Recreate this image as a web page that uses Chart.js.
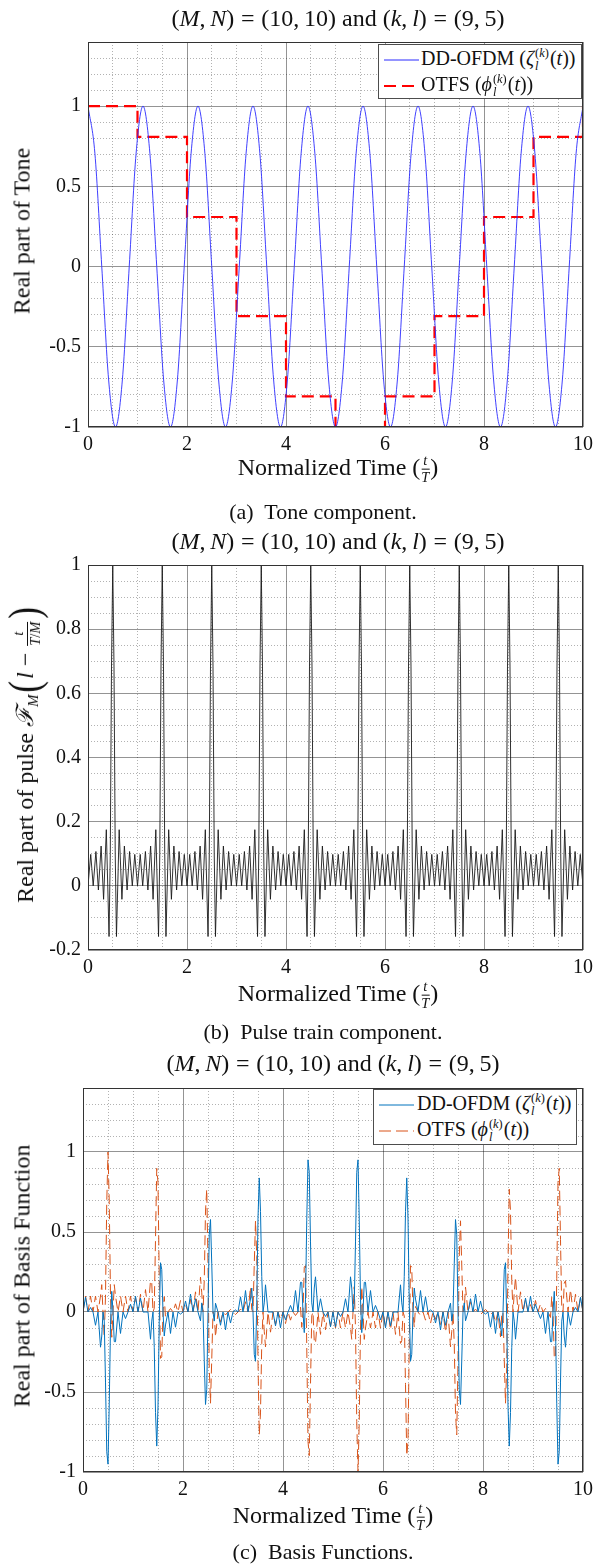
<!DOCTYPE html>
<html>
<head>
<meta charset="utf-8">
<script src="https://cdn.jsdelivr.net/npm/chart.js@4.4.1/dist/chart.umd.min.js"></script>
<style>
body { margin: 0; background: #fff; }
#page { position: relative; width: 599px; height: 1566px; overflow: hidden; font-family: 'Liberation Serif', 'DejaVu Serif', serif; color: #111; }
canvas { position: absolute; left: 0; }
.txt { position: absolute; white-space: nowrap; transform: translate(-50%, -50%); }
.ylab { transform: translate(-50%, -50%) rotate(-90deg); }
.title { font-size: 24px; }
.axlab { font-size: 24px; }
.caption { font-size: 22px; }
.eq { margin: 0 0.28em; }
.frac { display: inline-flex; flex-direction: column; vertical-align: middle; font-size: 0.6em; line-height: 1.1; text-align: center; margin: 0 1px; }
.frac > span + span { border-top: 1px solid #111; }
.ss { display: inline-flex; flex-direction: column; vertical-align: 0.62em; font-size: 0.62em; line-height: 1.0; margin: 0 1px 0 1px; }
.big { display: inline-block; font-size: 1.45em; transform: scaleY(1.3); vertical-align: -0.1em; margin: 0 2px; }
.legend { position: absolute; background: #fff; border: 1px solid #4d4d4d; font-size: 20px; }
.legend .row { position: absolute; left: 0; white-space: nowrap; transform: translateY(-50%); }
.legend svg { position: absolute; top: 50%; transform: translateY(-50%); }
.legend .lbl { position: absolute; white-space: nowrap; top: 50%; transform: translateY(-50%); }
</style>
</head>
<body>
<div id="page">
  <canvas id="tone-chart" width="599" height="434" style="top:23px"></canvas>
  <canvas id="pulse-chart" width="599" height="434" style="top:546px"></canvas>
  <canvas id="basis-chart" width="599" height="433" style="top:1069px"></canvas>

  <!-- (a) tone -->
  <div class="txt title" style="left:338px; top:18px">(<i>M</i>,&thinsp;<i>N</i>)<span class="eq">=</span>(10,&thinsp;10) and (<i>k</i>,&thinsp;<i>l</i>)<span class="eq">=</span>(9,&thinsp;5)</div>
  <div class="txt ylab axlab" style="left:22px; top:231px">Real part of Tone</div>
  <div class="txt axlab" style="left:338px; top:469px">Normalized Time (<span class="frac"><span><i>t</i></span><span><i>T</i></span></span>)</div>
  <div class="txt caption" style="left:323px; top:512px">(a)&nbsp; Tone component.</div>
  <div class="legend" style="left:378px; top:44px; width:202px; height:53px;">
    <div class="row" style="top:15px; width:202px; height:26px;">
      <svg width="35" height="4" style="left:5px"><line x1="0" y1="2" x2="35" y2="2" stroke="#2a2aff" stroke-width="1"/></svg>
      <span class="lbl" style="left:42px">DD-OFDM (<i>ζ</i><span class="ss"><span>(<i>k</i>)</span><span><i>l</i></span></span>(<i>t</i>))</span>
    </div>
    <div class="row" style="top:41px; width:202px; height:26px;">
      <svg width="35" height="4" style="left:5px"><line x1="0" y1="2" x2="35" y2="2" stroke="#ff0000" stroke-width="2.2" stroke-dasharray="12 6"/></svg>
      <span class="lbl" style="left:42px">OTFS (<i>ϕ</i><span class="ss"><span>(<i>k</i>)</span><span><i>l</i></span></span>(<i>t</i>))</span>
    </div>
  </div>

  <!-- (b) pulse train -->
  <div class="txt title" style="left:338px; top:541px">(<i>M</i>,&thinsp;<i>N</i>)<span class="eq">=</span>(10,&thinsp;10) and (<i>k</i>,&thinsp;<i>l</i>)<span class="eq">=</span>(9,&thinsp;5)</div>
  <div class="txt ylab axlab" style="left:25px; top:754px">Real part of pulse <i>ℱ</i><sub style="font-size:0.62em"><i>M</i></sub><span class="big">(</span><i>l</i> − <span class="frac"><span><i>t</i></span><span><i>T</i>/<i>M</i></span></span><span class="big">)</span></div>
  <div class="txt axlab" style="left:338px; top:995px">Normalized Time (<span class="frac"><span><i>t</i></span><span><i>T</i></span></span>)</div>
  <div class="txt caption" style="left:323px; top:1032px">(b)&nbsp; Pulse train component.</div>

  <!-- (c) basis functions -->
  <div class="txt title" style="left:333px; top:1063px">(<i>M</i>,&thinsp;<i>N</i>)<span class="eq">=</span>(10,&thinsp;10) and (<i>k</i>,&thinsp;<i>l</i>)<span class="eq">=</span>(9,&thinsp;5)</div>
  <div class="txt ylab axlab" style="left:22px; top:1276px">Real part of Basis Function</div>
  <div class="txt axlab" style="left:333px; top:1517px">Normalized Time (<span class="frac"><span><i>t</i></span><span><i>T</i></span></span>)</div>
  <div class="txt caption" style="left:323px; top:1552px">(c)&nbsp; Basis Functions.</div>
  <div class="legend" style="left:373px; top:1089px; width:202px; height:54px;">
    <div class="row" style="top:15px; width:202px; height:26px;">
      <svg width="35" height="4" style="left:5px"><line x1="0" y1="2" x2="35" y2="2" stroke="#0072BD" stroke-width="1"/></svg>
      <span class="lbl" style="left:43px">DD-OFDM (<i>ζ</i><span class="ss"><span>(<i>k</i>)</span><span><i>l</i></span></span>(<i>t</i>))</span>
    </div>
    <div class="row" style="top:41px; width:202px; height:26px;">
      <svg width="35" height="4" style="left:5px"><line x1="0" y1="2" x2="35" y2="2" stroke="#D95319" stroke-width="1" stroke-dasharray="12 5"/></svg>
      <span class="lbl" style="left:43px">OTFS (<i>ϕ</i><span class="ss"><span>(<i>k</i>)</span><span><i>l</i></span></span>(<i>t</i>))</span>
    </div>
  </div>
</div>

<script>
// ---- (a) tone component ----
// DD-OFDM tone, sampled every eighth of a cycle (9 cycles over 10 T)
const tone_t = [
    0, 0.139, 0.278, 0.417, 0.556, 0.694, 0.833, 0.972,
    1.111, 1.25, 1.389, 1.528, 1.667, 1.806, 1.944, 2.083,
    2.222, 2.361, 2.5, 2.639, 2.778, 2.917, 3.056, 3.194,
    3.333, 3.472, 3.611, 3.75, 3.889, 4.028, 4.167, 4.306,
    4.444, 4.583, 4.722, 4.861, 5, 5.139, 5.278, 5.417,
    5.556, 5.694, 5.833, 5.972, 6.111, 6.25, 6.389, 6.528,
    6.667, 6.806, 6.944, 7.083, 7.222, 7.361, 7.5, 7.639,
    7.778, 7.917, 8.056, 8.194, 8.333, 8.472, 8.611, 8.75,
    8.889, 9.028, 9.167, 9.306, 9.444, 9.583, 9.722, 9.861, 10
]
const tone_re = [
    1, 0.707, 0, -0.707, -1, -0.707, 0, 0.707,
    1, 0.707, 0, -0.707, -1, -0.707, 0, 0.707,
    1, 0.707, 0, -0.707, -1, -0.707, 0, 0.707,
    1, 0.707, 0, -0.707, -1, -0.707, 0, 0.707,
    1, 0.707, 0, -0.707, -1, -0.707, 0, 0.707,
    1, 0.707, 0, -0.707, -1, -0.707, 0, 0.707,
    1, 0.707, 0, -0.707, -1, -0.707, 0, 0.707,
    1, 0.707, 0, -0.707, -1, -0.707, 0, 0.707,
    1, 0.707, 0, -0.707, -1, -0.707, 0, 0.707, 1
]
// OTFS tone, one level per symbol interval
const step_t = [0, 1, 2, 3, 4, 5, 6, 7, 8, 9, 10]
const step_re = [1, 0.809, 0.309, -0.309, -0.809, -1, -0.809, -0.309, 0.309, 0.809, 1]

// ---- (b) pulse train component ----
// sample times inside each unit interval
const pulse_offsets = [0, 0.055, 0.105, 0.16, 0.21, 0.265, 0.315, 0.37, 0.425, 0.45, 0.475,
    0.5, 0.525, 0.55, 0.575, 0.63, 0.685, 0.735, 0.79, 0.84, 0.895, 0.945]
const pulse_rows = [
    [0, 0.098, 0, 0.107, -0.013, 0.124, -0.042, 0.175, -0.158, 0.1, 0.685, 1, 0.685, 0.1, -0.158, 0.175, -0.042, 0.124, -0.013, 0.107, 0, 0.098],
    [0, 0.098, 0, 0.107, -0.013, 0.124, -0.042, 0.175, -0.158, 0.1, 0.685, 1, 0.685, 0.1, -0.158, 0.175, -0.042, 0.124, -0.013, 0.107, 0, 0.098],
    [0, 0.098, 0, 0.107, -0.013, 0.124, -0.042, 0.175, -0.158, 0.1, 0.685, 1, 0.685, 0.1, -0.158, 0.175, -0.042, 0.124, -0.013, 0.107, 0, 0.098],
    [0, 0.098, 0, 0.107, -0.013, 0.124, -0.042, 0.175, -0.158, 0.1, 0.685, 1, 0.685, 0.1, -0.158, 0.175, -0.042, 0.124, -0.013, 0.107, 0, 0.098],
    [0, 0.098, 0, 0.107, -0.013, 0.124, -0.042, 0.175, -0.158, 0.1, 0.685, 1, 0.685, 0.1, -0.158, 0.175, -0.042, 0.124, -0.013, 0.107, 0, 0.098],
    [0, 0.098, 0, 0.107, -0.013, 0.124, -0.042, 0.175, -0.158, 0.1, 0.685, 1, 0.685, 0.1, -0.158, 0.175, -0.042, 0.124, -0.013, 0.107, 0, 0.098],
    [0, 0.098, 0, 0.107, -0.013, 0.124, -0.042, 0.175, -0.158, 0.1, 0.685, 1, 0.685, 0.1, -0.158, 0.175, -0.042, 0.124, -0.013, 0.107, 0, 0.098],
    [0, 0.098, 0, 0.107, -0.013, 0.124, -0.042, 0.175, -0.158, 0.1, 0.685, 1, 0.685, 0.1, -0.158, 0.175, -0.042, 0.124, -0.013, 0.107, 0, 0.098],
    [0, 0.098, 0, 0.107, -0.013, 0.124, -0.042, 0.175, -0.158, 0.1, 0.685, 1, 0.685, 0.1, -0.158, 0.175, -0.042, 0.124, -0.013, 0.107, 0, 0.098],
    [0, 0.098, 0, 0.107, -0.013, 0.124, -0.042, 0.175, -0.158, 0.1, 0.685, 1, 0.685, 0.1, -0.158, 0.175, -0.042, 0.124, -0.013, 0.107, 0, 0.098]
]

// ---- (c) basis functions ----
const basis_offsets = [0, 0.05, 0.1, 0.15, 0.2, 0.25, 0.3, 0.35, 0.375, 0.4, 0.425, 0.45, 0.475,
    0.5, 0.525, 0.55, 0.575, 0.6, 0.625, 0.65, 0.7, 0.75, 0.8, 0.85, 0.9, 0.95]
const ddofdm_rows = [
    [0, 0.092, 0, 0.028, 0, -0.083, 0, -0.220, -0.150, 0, -0.057, -0.438, -0.873, -0.951, -0.574, -0.080, 0.129, 0, -0.185, -0.186, 0, -0.134, 0, -0.041, 0, 0.049],
    [0, 0.099, 0, 0.087, 0, 0, 0, -0.170, -0.057, 0, -0.221, -0.628, -0.838, -0.588, -0.057, 0.308, 0.265, 0, -0.150, -0.081, 0, -0.134, 0, -0.095, 0, -0.013],
    [0, 0.069, 0, 0.112, 0, 0.083, 0, -0.055, 0.057, 0, -0.301, -0.578, -0.483, 0, 0.483, 0.578, 0.301, 0, -0.057, 0.055, 0, -0.083, 0, -0.112, 0, -0.069],
    [0, 0.013, 0, 0.095, 0, 0.134, 0, 0.081, 0.150, 0, -0.265, -0.308, 0.057, 0.588, 0.838, 0.628, 0.221, 0, 0.057, 0.170, 0, 0, 0, -0.087, 0, -0.099],
    [0, -0.049, 0, 0.041, 0, 0.134, 0, 0.186, 0.185, 0, -0.129, 0.080, 0.574, 0.951, 0.873, 0.438, 0.057, 0, 0.150, 0.220, 0, 0.083, 0, -0.028, 0, -0.092],
    [0, -0.092, 0, -0.028, 0, 0.083, 0, 0.220, 0.150, 0, 0.057, 0.438, 0.873, 0.951, 0.574, 0.080, -0.129, 0, 0.185, 0.186, 0, 0.134, 0, 0.041, 0, -0.049],
    [0, -0.099, 0, -0.087, 0, 0, 0, 0.170, 0.057, 0, 0.221, 0.628, 0.838, 0.588, 0.057, -0.308, -0.265, 0, 0.150, 0.081, 0, 0.134, 0, 0.095, 0, 0.013],
    [0, -0.069, 0, -0.112, 0, -0.083, 0, 0.055, -0.057, 0, 0.301, 0.578, 0.483, 0, -0.483, -0.578, -0.301, 0, 0.057, -0.055, 0, 0.083, 0, 0.112, 0, 0.069],
    [0, -0.013, 0, -0.095, 0, -0.134, 0, -0.081, -0.150, 0, 0.265, 0.308, -0.057, -0.588, -0.838, -0.628, -0.221, 0, -0.057, -0.170, 0, 0, 0, 0.087, 0, 0.099],
    [0, 0.049, 0, -0.041, 0, -0.134, 0, -0.186, -0.185, 0, 0.129, -0.080, -0.574, -0.951, -0.873, -0.438, -0.057, 0, -0.150, -0.220, 0, -0.083, 0, 0.028, 0, 0.092]
]
const otfs_rows = [
    [0, 0.1, 0, 0.1, 0, 0.1, 0, 0.1, 0.171, 0, -0.158, 0.1, 0.685, 1, 0.685, 0.1, -0.158, 0, 0.171, 0.1, 0, 0.1, 0, 0.1, 0, 0.1],
    [0, 0.090, 0, 0.111, 0, 0.140, 0, 0.196, 0.180, 0, 0.024, 0.452, 0.898, 0.809, 0.210, -0.290, -0.280, 0, 0.096, -0.034, 0, 0.022, 0, 0.051, 0, 0.072],
    [0, 0.046, 0, 0.079, 0, 0.126, 0, 0.218, 0.120, 0, 0.197, 0.631, 0.768, 0.309, -0.345, -0.570, -0.295, 0, -0.015, -0.156, 0, -0.064, 0, -0.018, 0, 0.016],
    [0, -0.016, 0, 0.018, 0, 0.064, 0, 0.156, 0.015, 0, 0.295, 0.570, 0.345, -0.309, -0.768, -0.631, -0.197, 0, -0.120, -0.218, 0, -0.126, 0, -0.079, 0, -0.046],
    [0, -0.072, 0, -0.051, 0, -0.022, 0, 0.034, -0.096, 0, 0.280, 0.290, -0.210, -0.809, -0.898, -0.452, -0.024, 0, -0.180, -0.196, 0, -0.140, 0, -0.111, 0, -0.090],
    [0, -0.1, 0, -0.1, 0, -0.1, 0, -0.1, -0.171, 0, 0.158, -0.1, -0.685, -1, -0.685, -0.1, 0.158, 0, -0.171, -0.1, 0, -0.1, 0, -0.1, 0, -0.1],
    [0, -0.090, 0, -0.111, 0, -0.140, 0, -0.196, -0.180, 0, -0.024, -0.452, -0.898, -0.809, -0.210, 0.290, 0.280, 0, -0.096, 0.034, 0, -0.022, 0, -0.051, 0, -0.072],
    [0, -0.046, 0, -0.079, 0, -0.126, 0, -0.218, -0.120, 0, -0.197, -0.631, -0.768, -0.309, 0.345, 0.570, 0.295, 0, 0.015, 0.156, 0, 0.064, 0, 0.018, 0, -0.016],
    [0, 0.016, 0, -0.018, 0, -0.064, 0, -0.156, -0.015, 0, -0.295, -0.570, -0.345, 0.309, 0.768, 0.631, 0.197, 0, 0.120, 0.218, 0, 0.126, 0, 0.079, 0, 0.046],
    [0, 0.072, 0, 0.051, 0, 0.022, 0, -0.034, 0.096, 0, -0.280, -0.290, 0.210, 0.809, 0.898, 0.452, 0.024, 0, 0.180, 0.196, 0, 0.140, 0, 0.111, 0, 0.090]
]

// ---- axes ----
const time_ticks = [0, 2, 4, 6, 8, 10]
const tone_y_ticks = [-1, -0.5, 0, 0.5, 1]
const pulse_y_ticks = [-0.2, 0, 0.2, 0.4, 0.6, 0.8, 1]
const basis_y_ticks = [-1, -0.5, 0, 0.5, 1]

const major_grid = 'rgba(0, 0, 0, 0.42)'
const minor_grid = 'rgba(0, 0, 0, 0.3)'
const tick_font = { family: '"Liberation Serif", serif', size: 20 }

function zip_points(xs, ys) {
    let pts = []
    for (let i = 0; i < xs.length; i ++) {
        pts.push({ x: xs[i], y: ys[i] })
    }
    return pts
}

function rows_to_points(offsets, rows) {
    let pts = []
    for (let n = 0; n < rows.length; n ++) {
        for (let j = 0; j < offsets.length; j ++) {
            pts.push({ x: n + offsets[j], y: rows[n][j] })
        }
    }
    pts.push({ x: rows.length, y: 0 })
    return pts
}

function on_major(v, major) {
    for (let i = 0; i < major.length; i ++) {
        if (Math.abs(v - major[i]) < 1e-6) return true
    }
    return false
}

function fmt_tick(v) {
    return String(Math.round(v * 100) / 100)
}

const frame_plugin = {
    id: 'frame',
    afterDraw(chart) {
        const a = chart.chartArea
        const ctx = chart.ctx
        ctx.save()
        ctx.strokeStyle = '#333'
        ctx.lineWidth = 1
        ctx.strokeRect(Math.round(a.left) + 0.5, Math.round(a.top) + 0.5,
            Math.round(a.right - a.left) - 1, Math.round(a.bottom - a.top) - 1)
        ctx.restore()
    }
}

function make_chart(canvas_id, datasets, y_min, y_max, y_ticks, y_minor_step, left_w, right_pad) {
    return new Chart(document.getElementById(canvas_id), {
        type: 'line',
        data: { datasets: datasets },
        plugins: [frame_plugin],
        options: {
            responsive: false,
            animation: false,
            events: [],
            layout: { padding: { top: 12, right: right_pad, left: 0, bottom: 0 } },
            plugins: { legend: { display: false }, tooltip: { enabled: false } },
            elements: { point: { radius: 0 }, line: { tension: 0 } },
            scales: {
                x: {
                    type: 'linear', min: 0, max: 10, position: 'bottom',
                    afterBuildTicks: s => { s.ticks = time_ticks.map(v => ({ value: v })) },
                    ticks: { font: tick_font, color: '#111', padding: 6, maxRotation: 0, callback: fmt_tick },
                    grid: { color: major_grid, lineWidth: 1, drawTicks: false },
                    border: { display: false },
                    afterFit: s => { s.height = 30 }
                },
                x_minor: {
                    type: 'linear', min: 0, max: 10, position: 'bottom',
                    ticks: { display: false, stepSize: 0.5 },
                    grid: {
                        drawTicks: false, lineWidth: 1,
                        color: c => on_major(c.tick.value, time_ticks) ? 'rgba(0,0,0,0)' : minor_grid
                    },
                    border: { display: false, dash: [1, 2] },
                    afterFit: s => { s.height = 0 }
                },
                y: {
                    type: 'linear', min: y_min, max: y_max, position: 'left',
                    afterBuildTicks: s => { s.ticks = y_ticks.map(v => ({ value: v })) },
                    ticks: { font: tick_font, color: '#111', padding: 7, callback: fmt_tick },
                    grid: { color: major_grid, lineWidth: 1, drawTicks: false },
                    border: { display: false },
                    afterFit: s => { s.width = left_w }
                },
                y_minor: {
                    type: 'linear', min: y_min, max: y_max, position: 'left',
                    ticks: { display: false, stepSize: y_minor_step },
                    grid: {
                        drawTicks: false, lineWidth: 1,
                        color: c => on_major(c.tick.value, y_ticks) ? 'rgba(0,0,0,0)' : minor_grid
                    },
                    border: { display: false, dash: [1, 2] },
                    afterFit: s => { s.width = 0 }
                }
            }
        }
    })
}

make_chart('tone-chart', [
    {
        label: 'DD-OFDM',
        data: zip_points(tone_t, tone_re),
        borderColor: '#2a2aff', borderWidth: 0.9,
        cubicInterpolationMode: 'monotone'
    },
    {
        label: 'OTFS',
        data: zip_points(step_t, step_re),
        borderColor: '#ff0000', borderWidth: 2.2,
        borderDash: [12, 6], stepped: true
    }
], -1, 1.4, tone_y_ticks, 0.1, 88, 11)

make_chart('pulse-chart', [
    {
        label: 'pulse',
        data: rows_to_points(pulse_offsets, pulse_rows),
        borderColor: '#1a1a1a', borderWidth: 0.9
    }
], -0.2, 1, pulse_y_ticks, 0.05, 88, 11)

make_chart('basis-chart', [
    {
        label: 'DD-OFDM',
        data: rows_to_points(basis_offsets, ddofdm_rows),
        borderColor: '#0072BD', borderWidth: 1
    },
    {
        label: 'OTFS',
        data: rows_to_points(basis_offsets, otfs_rows),
        borderColor: '#D95319', borderWidth: 1,
        borderDash: [10, 5]
    }
], -1, 1.4, basis_y_ticks, 0.1, 83, 16)
</script>
</body>
</html>
